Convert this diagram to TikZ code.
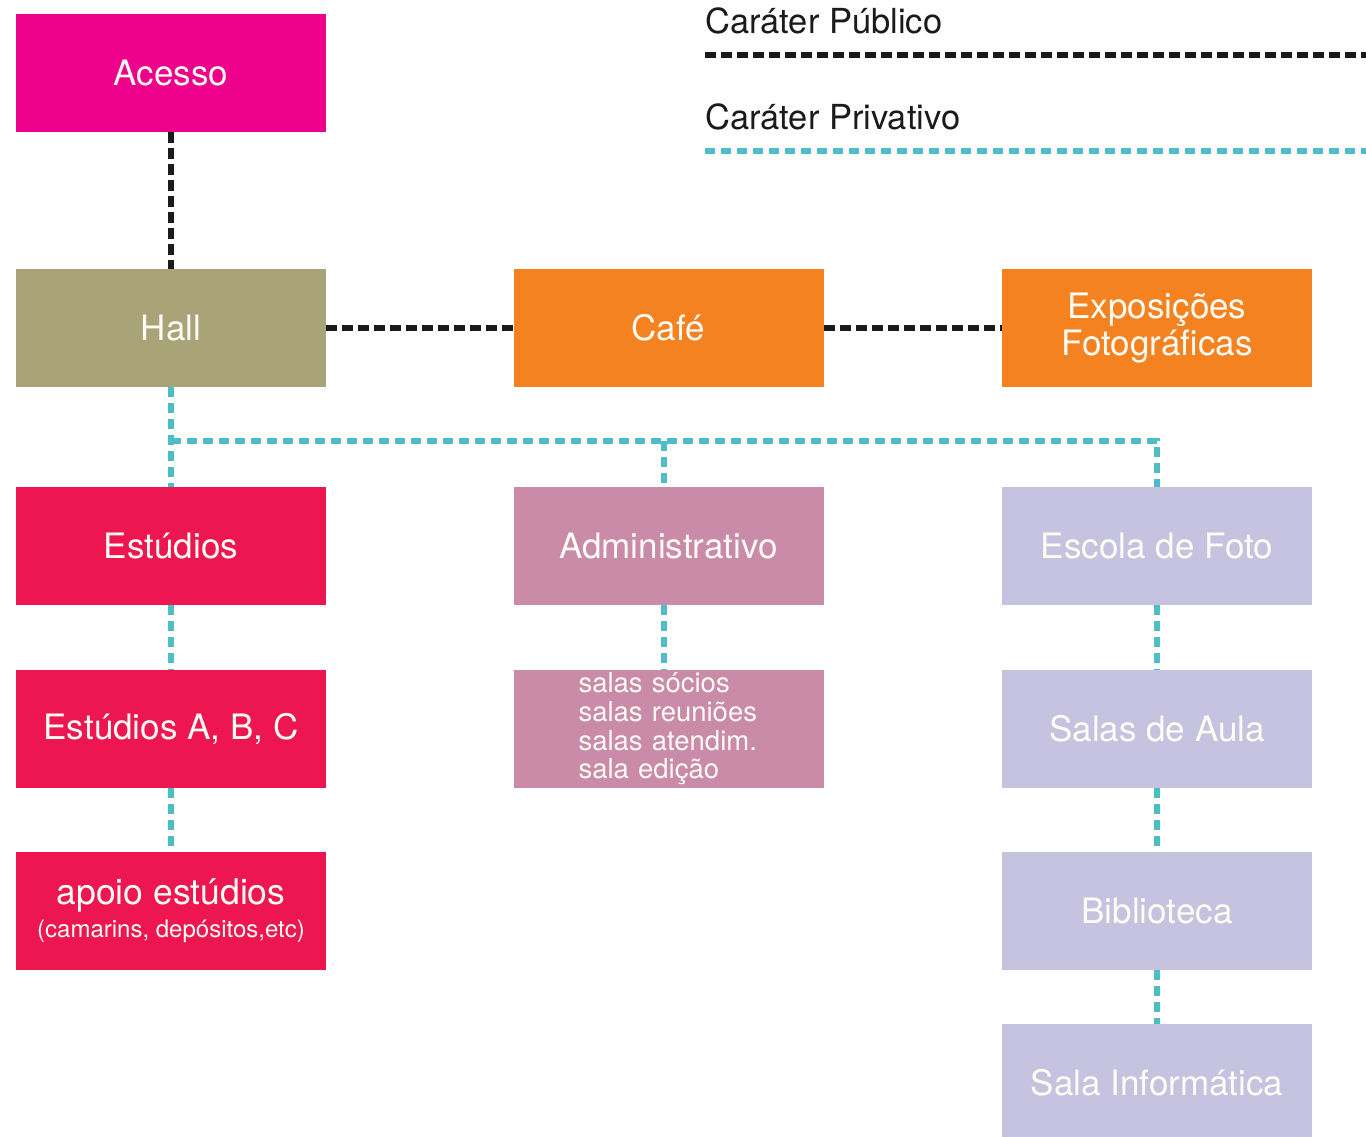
\documentclass[tikz,border=0pt]{standalone}
\usepackage{fontspec}
\setmainfont{TeX Gyre Heros}
\definecolor{cmag}{HTML}{EC008C}
\definecolor{chall}{HTML}{A9A477}
\definecolor{corange}{HTML}{F58220}
\definecolor{cred}{HTML}{ED1651}
\definecolor{cpink}{HTML}{C98BA7}
\definecolor{clav}{HTML}{C5C3DF}
\definecolor{ccyan}{HTML}{4DBDC8}
\definecolor{cink}{HTML}{1A1A1A}
\definecolor{ctext}{HTML}{FFFBF5}
\begin{document}
\begin{tikzpicture}[x=1pt,y=-1pt,
  box/.style={rectangle, minimum width=310pt, minimum height=118pt, inner sep=0pt,
    text=ctext, font=\fontsize{35}{37}\selectfont, align=center},
  publine/.style={line width=6pt, dash pattern=on 11pt off 5pt, cink},
  privline/.style={line width=6pt, dash pattern=on 10pt off 6pt, ccyan},
  legendtext/.style={anchor=base west, inner sep=0pt, text=cink, font=\fontsize{34.5}{36}\selectfont}]
\clip (0,0) rectangle (1366,1136);
\fill[white] (0,0) rectangle (1366,1136);

% legend
\node[legendtext] (lpub) at (705,33) {Caráter Público};
\node[legendtext] (lpriv) at (705,129) {Caráter Privativo};
\coordinate (lpa) at (705,55);
\coordinate (lpb) at (1366,55);
\coordinate (lva) at (705,151);
\coordinate (lvb) at (1366,151);
\draw[publine] (lpa) -- (lpb);
\draw[privline] (lva) -- (lvb);

% boxes
\node[box, fill=cmag] (acesso) at (171,73) {Acesso};
\node[box, fill=chall] (hall) at (171,328) {Hall};
\node[box, fill=corange] (cafe) at (668.5,328) {Café};
\node[box, fill=corange] (expo) at (1157,328) {Exposições\\Fotográficas};
\node[box, fill=cred] (estudios) at (171,546) {Estúdios};
\node[box, fill=cpink] (admin) at (668.5,546) {Administrativo};
\node[box, fill=clav] (escola) at (1157,546) {Escola de Foto};
\node[box, fill=cred] (abc) at (171,729) {Estúdios A, B, C};
\node[box, fill=cpink, text width=180pt, align=left, font=\fontsize{27.5}{28.7}\selectfont] (salas) at (668.5,729) {salas sócios\\salas reuniões\\salas atendim.\\sala edição};
\node[box, fill=clav] (aula) at (1157,729) {Salas de Aula};
\node[box, fill=cred] (apoio) at (171,911) {\fontsize{35.5}{38}\selectfont apoio estúdios\\[-4pt]\fontsize{24}{26}\selectfont (camarins, depósitos,etc)};
\node[box, fill=clav] (biblio) at (1157,911) {Biblioteca};
\node[box, fill=clav] (info) at (1157,1083) {Sala Informática};

% public connectors
\draw[publine] (acesso.south) -- (hall.north);
\draw[publine] (hall.east) -- (cafe.west);
\draw[publine] (cafe.east) -- (expo.west);

% private connectors
\coordinate (jl) at (171,441);
\coordinate (jm) at (664,441);
\coordinate (jr) at (1157,441);
\draw[privline] (hall.south) -- (estudios.north);
\draw[privline] (jl) -- (jr) -- (escola.north);
\draw[privline] (jm) -- (jm |- admin.north);
\draw[privline] (estudios.south) -- (abc.north);
\draw[privline] (abc.south) -- (apoio.north);
\draw[privline] (admin.south -| jm) -- (salas.north -| jm);
\draw[privline] (escola.south) -- (aula.north);
\draw[privline] (aula.south) -- (biblio.north);
\draw[privline] (biblio.south) -- (info.north);
\end{tikzpicture}
\end{document}
